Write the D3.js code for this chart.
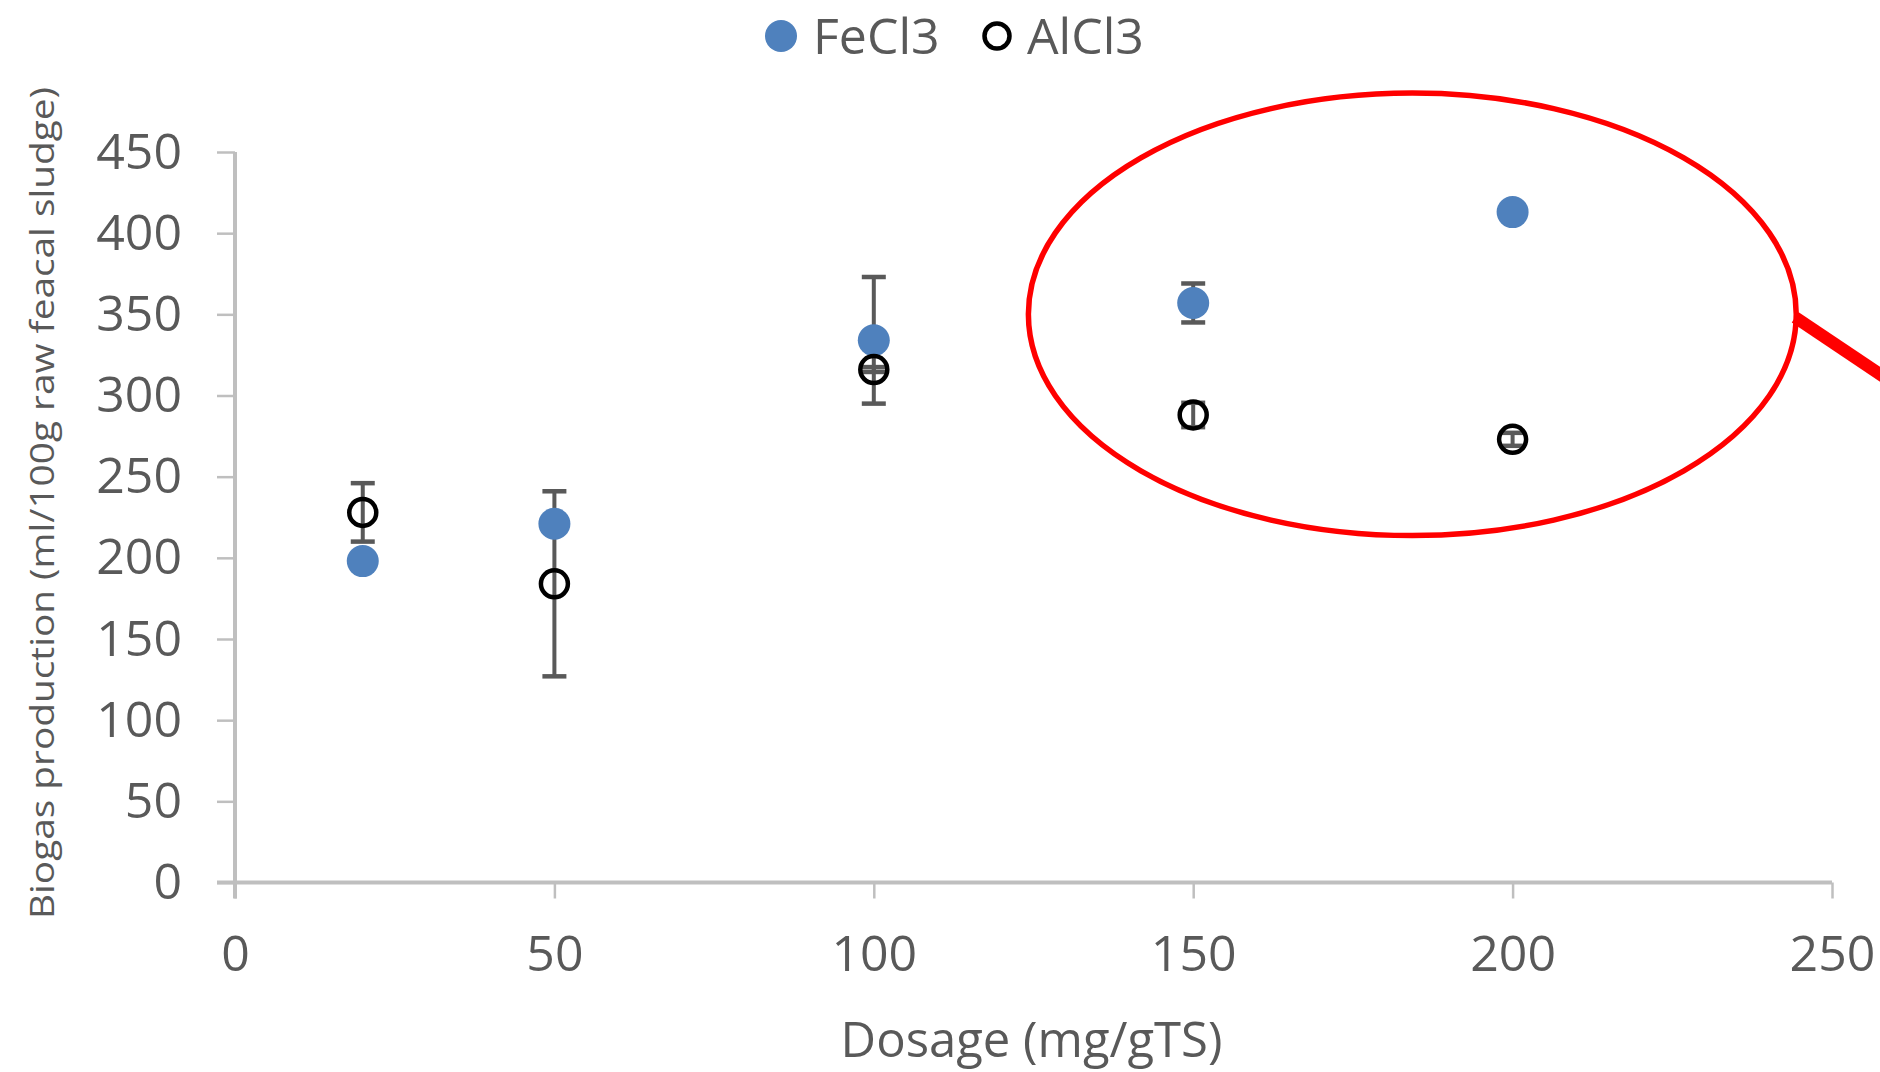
<!DOCTYPE html>
<html><head><meta charset="utf-8">
<script src="https://cdn.jsdelivr.net/npm/d3@7"></script>
<style>html,body{margin:0;padding:0;background:#fff;} svg{display:block;}</style>
</head><body>
<svg id="chart" width="1880" height="1072"></svg>
<script>
const dosage = [20, 50, 100, 150, 200];
const fecl3 = [198, 221, 334, 357, 413];
const fecl3Err = [0, 0, 39, 12, 0];
const alcl3 = [228, 184, 316, 288, 273];
const alcl3Err = [18, 57, 1.5, 7.5, 4];
const xTicks = [0, 50, 100, 150, 200, 250];
const yTicks = [0, 50, 100, 150, 200, 250, 300, 350, 400, 450];
const seriesNames = ["FeCl3", "AlCl3"];
// highlight annotation in data units: [cx, cy, rx, ry]
const highlight = [184.3, 350, 60.1, 136.3];

const svg = d3.select("#chart");
const x = d3.scaleLinear().domain([0, 250]).range([235, 1832]);
const y = d3.scaleLinear().domain([0, 450]).range([882.5, 152]);
const txt = "#595959", axisCol = "#bfbfbf", font = "'Open Sans', 'Noto Sans', sans-serif";

// axes
const yAxis = svg.append("g").attr("transform", `translate(${x(0)},0)`)
  .call(d3.axisLeft(y).tickValues(yTicks).tickSize(18).tickPadding(35).tickSizeOuter(0));
const xAxis = svg.append("g").attr("transform", `translate(0,${y(0)})`)
  .call(d3.axisBottom(x).tickValues(xTicks).tickSize(16).tickPadding(37).tickSizeOuter(0));
[yAxis, xAxis].forEach(g => {
  g.select(".domain").remove();
  g.selectAll(".tick line").attr("stroke", axisCol).attr("stroke-width", 2.5);
  g.selectAll(".tick text").attr("fill", txt).attr("font-family", font).attr("font-size", 50);
});
xAxis.selectAll(".tick text").attr("dy", "0.71em");
svg.append("line").attr("x1", x(0) - 18).attr("x2", x(250)).attr("y1", y(0)).attr("y2", y(0))
  .attr("stroke", axisCol).attr("stroke-width", 4);
svg.append("line").attr("x1", x(0)).attr("x2", x(0)).attr("y1", y(450)).attr("y2", y(0) + 16)
  .attr("stroke", axisCol).attr("stroke-width", 4);

// axis titles
svg.append("text").attr("x", (x(0) + x(250)) / 2 - 2).attr("y", 1057).attr("text-anchor", "middle")
  .attr("fill", txt).attr("font-family", font).attr("font-size", 49).text("Dosage (mg/gTS)");
svg.append("text").attr("transform", "translate(54,503) rotate(-90)").attr("text-anchor", "middle")
  .attr("fill", txt).attr("font-family", font).attr("font-size", 32)
  .attr("textLength", 832).attr("lengthAdjust", "spacingAndGlyphs")
  .text("Biogas production (ml/100g raw feacal sludge)");

// error bars
const errCol = "#595959";
function bars(vals, errs) {
  const g = svg.append("g");
  dosage.forEach((d, i) => {
    if (!errs[i]) return;
    const cx = x(d), y1 = y(vals[i] + errs[i]), y2 = y(vals[i] - errs[i]);
    g.append("line").attr("x1", cx).attr("x2", cx).attr("y1", y1).attr("y2", y2).attr("stroke", errCol).attr("stroke-width", 4);
    [y1, y2].forEach(yy => g.append("line").attr("x1", cx - 12).attr("x2", cx + 12).attr("y1", yy).attr("y2", yy)
      .attr("stroke", errCol).attr("stroke-width", 4.5));
  });
}
bars(fecl3, fecl3Err);
bars(alcl3, alcl3Err);

// markers
svg.append("g").selectAll("circle").data(dosage).join("circle")
  .attr("cx", d => x(d)).attr("cy", (d, i) => y(fecl3[i])).attr("r", 16).attr("fill", "#4f81bd");
svg.append("g").selectAll("circle").data(dosage).join("circle")
  .attr("cx", d => x(d)).attr("cy", (d, i) => y(alcl3[i])).attr("r", 13.5)
  .attr("fill", "none").attr("stroke", "#000").attr("stroke-width", 4.5);

// legend
const lg = svg.append("g");
lg.append("circle").attr("cx", 781).attr("cy", 36).attr("r", 16).attr("fill", "#4f81bd");
lg.append("text").attr("x", 813).attr("y", 54).attr("fill", txt).attr("font-family", font).attr("font-size", 50).text(seriesNames[0]);
lg.append("circle").attr("cx", 997).attr("cy", 36).attr("r", 12.5).attr("fill", "none").attr("stroke", "#000").attr("stroke-width", 4.5);
lg.append("text").attr("x", 1027).attr("y", 54).attr("fill", txt).attr("font-family", font).attr("font-size", 50).text(seriesNames[1]);

// red highlight annotation
const [hcx, hcy, hrx, hry] = highlight;
const ecx = x(hcx), ecy = y(hcy), erx = x(hcx + hrx) - x(hcx), ery = y(hcy) - y(hcy + hry);
svg.append("ellipse").attr("cx", ecx).attr("cy", ecy).attr("rx", erx).attr("ry", ery)
  .attr("fill", "none").attr("stroke", "#ff0000").attr("stroke-width", 5.5);
svg.append("line").attr("x1", ecx + erx - 1).attr("y1", ecy + 3).attr("x2", ecx + erx + 150).attr("y2", ecy + 3 + 150 * 0.675)
  .attr("stroke", "#ff0000").attr("stroke-width", 12.5);
</script>
</body></html>
